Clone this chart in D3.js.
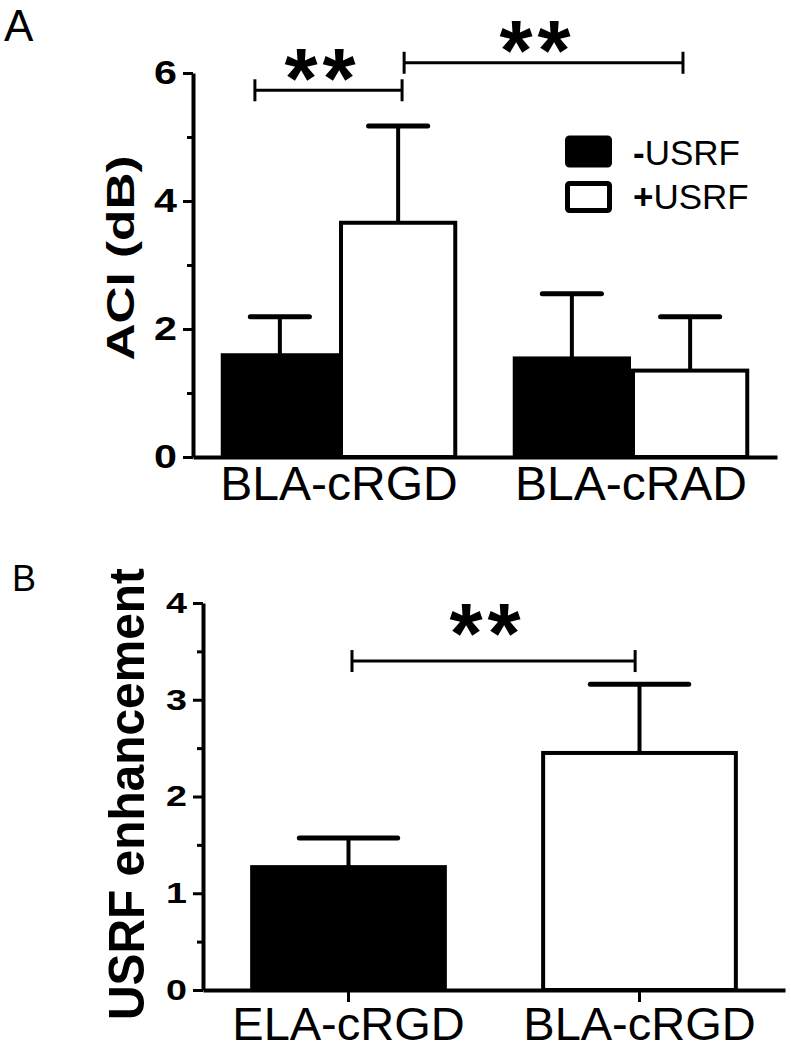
<!DOCTYPE html>
<html>
<head>
<meta charset="utf-8">
<script src="https://cdn.jsdelivr.net/npm/d3@7"></script>
<style>
  body { margin: 0; background: #fff; }
  svg { display: block; font-family: "Liberation Sans", Arial, sans-serif; }
</style>
</head>
<body>
<svg width="791" height="1050"></svg>
<script>
// Panel A data
const groupsA = ["BLA-cRGD", "BLA-cRAD"];
const seriesA = ["-USRF", "+USRF"];
const minusMean = [1.59, 1.54];
const minusErr = [0.60, 1.01];
const plusMean = [3.66, 1.35];
const plusErr = [1.51, 0.84];
const ticksA = [0, 2, 4, 6];
const minorA = [1, 3, 5];
// brackets: from/to in category steps from the left end of the axis
const bracketsA = [
    { from: 0.212, to: 0.716, y: 5.73, label: "**" },
    { from: 0.723, to: 1.678, y: 6.16, label: "**" }
];

// Panel B data
const groupsB = ["ELA-cRGD", "BLA-cRGD"];
const meanB = [1.27, 2.45];
const errB = [0.30, 0.71];
const ticksB = [0, 1, 2, 3, 4];
const minorB = [0.5, 1.5, 2.5, 3.5];
const bracketsB = [
    { from: 0.512, to: 1.485, y: 3.40, label: "**" }
];

const fills = ["#000", "#fff"];

const svg = d3.select("svg");
svg.append("rect").attr("width", 791).attr("height", 1050).attr("fill", "#fff");

// stretch tick labels sideways like the original
function widen(sel, s) {
    sel.selectAll(".tick text").each(function() {
        const t = d3.select(this);
        const x = +t.attr("x");
        t.attr("x", 0).attr("transform", `translate(${x},0) scale(${s},1)`);
    });
}

function drawErr(g, cx, yTop, yBar, capW) {
    g.append("line")
        .attr("x1", cx).attr("x2", cx)
        .attr("y1", yBar).attr("y2", yTop)
        .attr("stroke", "#000").attr("stroke-width", 4);
    g.append("line")
        .attr("x1", cx - capW / 2).attr("x2", cx + capW / 2)
        .attr("y1", yTop).attr("y2", yTop)
        .attr("stroke", "#000").attr("stroke-width", 5)
        .attr("stroke-linecap", "round");
}

function drawBracket(g, x0, step, y, b, starGap) {
    const x1 = x0 + b.from * step, x2 = x0 + b.to * step, yy = y(b.y);
    g.append("line").attr("x1", x1).attr("x2", x2).attr("y1", yy).attr("y2", yy)
        .attr("stroke", "#000").attr("stroke-width", 3);
    [x1, x2].forEach(x => {
        g.append("line").attr("x1", x).attr("x2", x).attr("y1", yy - 11).attr("y2", yy + 11)
            .attr("stroke", "#000").attr("stroke-width", 3);
    });
    g.append("text")
        .attr("x", (x1 + x2) / 2 - 6)
        .attr("y", yy + starGap)
        .attr("text-anchor", "middle")
        .attr("font-size", 85)
        .attr("font-weight", "bold")
        .attr("letter-spacing", 5)
        .text(b.label);
}

// ---------- Panel A ----------
const yA = d3.scaleLinear().domain([0, 6]).range([457, 73]);
const xA = d3.scaleBand().domain(groupsA).range([193, 777]).paddingInner(0.19).paddingOuter(0.095);
const xsA = d3.scaleBand().domain(seriesA).range([0, xA.bandwidth()]);
const gA = svg.append("g");

const barsA = [];
groupsA.forEach((grp, i) => {
    barsA.push({ grp, s: 0, v: minusMean[i], e: minusErr[i] });
    barsA.push({ grp, s: 1, v: plusMean[i], e: plusErr[i] });
});

barsA.forEach(d => {
    const x = xA(d.grp) + xsA(seriesA[d.s]);
    drawErr(gA, x + xsA.bandwidth() / 2, yA(d.v + d.e), yA(d.v), xsA.bandwidth() / 2);
});
gA.selectAll("rect.bar")
    .data(barsA)
    .enter()
    .append("rect")
    .attr("class", "bar")
    .attr("x", d => xA(d.grp) + xsA(seriesA[d.s]) + 2)
    .attr("y", d => yA(d.v))
    .attr("width", xsA.bandwidth() - 4)
    .attr("height", d => yA(0) - yA(d.v))
    .attr("fill", d => fills[d.s])
    .attr("stroke", "#000")
    .attr("stroke-width", 4);

const axA = gA.append("g").attr("transform", "translate(193,0)")
    .call(d3.axisLeft(yA).tickValues(ticksA).tickFormat(d3.format("d")).tickSize(10).tickPadding(6).tickSizeOuter(0));
axA.select(".domain").attr("stroke-width", 4);
axA.selectAll(".tick line").attr("stroke-width", 3);
axA.selectAll(".tick text").attr("font-size", 33).attr("font-weight", "bold")
    .attr("font-family", "Liberation Sans, Arial, sans-serif");
widen(axA, 1.25);
const axAm = gA.append("g").attr("transform", "translate(193,0)")
    .call(d3.axisLeft(yA).tickValues(minorA).tickSize(6).tickFormat(""));
axAm.select(".domain").remove();
axAm.selectAll(".tick line").attr("stroke-width", 3);

const axAx = gA.append("g").attr("transform", "translate(0,457)")
    .call(d3.axisBottom(xA).tickSize(0).tickPadding(9).tickSizeOuter(0));
axAx.select(".domain").attr("stroke-width", 4);
axAx.selectAll(".tick text").attr("font-size", 48)
    .attr("font-family", "Liberation Sans, Arial, sans-serif");

gA.append("text")
    .attr("transform", "translate(134,258) rotate(-90)")
    .attr("text-anchor", "middle")
    .attr("font-size", 38).attr("font-weight", "bold")
    .attr("textLength", 205).attr("lengthAdjust", "spacingAndGlyphs")
    .text("ACI (dB)");

bracketsA.forEach((b, i) => drawBracket(gA, 193, xA.step(), yA, b, i === 0 ? 18 : 17));

// legend
const leg = gA.append("g");
seriesA.forEach((s, i) => {
    leg.append("rect")
        .attr("x", 567.5).attr("y", 138 + i * 45.5)
        .attr("width", 42).attr("height", 27).attr("rx", 2)
        .attr("fill", fills[i]).attr("stroke", "#000").attr("stroke-width", 5);
    const t = leg.append("text").attr("x", 633).attr("y", 165 + i * 44).attr("font-size", 35);
    t.append("tspan").attr("font-weight", "bold").text(s[0]);
    t.append("tspan").text(s.slice(1));
});

svg.append("text").attr("x", 4).attr("y", 41).attr("font-size", 44).text("A");

// ---------- Panel B ----------
const yB = d3.scaleLinear().domain([0, 4]).range([990, 603]);
const xB = d3.scaleBand().domain(groupsB).range([203, 785]).paddingInner(0.324).paddingOuter(0.162);
const gB = svg.append("g");

groupsB.forEach((grp, i) => {
    drawErr(gB, xB(grp) + xB.bandwidth() / 2, yB(meanB[i] + errB[i]), yB(meanB[i]), xB.bandwidth() / 2);
});
gB.selectAll("rect.bar")
    .data(groupsB)
    .enter()
    .append("rect")
    .attr("class", "bar")
    .attr("x", d => xB(d) + 2)
    .attr("y", (d, i) => yB(meanB[i]))
    .attr("width", xB.bandwidth() - 4)
    .attr("height", (d, i) => yB(0) - yB(meanB[i]))
    .attr("fill", (d, i) => fills[i])
    .attr("stroke", "#000")
    .attr("stroke-width", 4);

const axB = gB.append("g").attr("transform", "translate(203,0)")
    .call(d3.axisLeft(yB).tickValues(ticksB).tickFormat(d3.format("d")).tickSize(10).tickPadding(6).tickSizeOuter(0));
axB.select(".domain").attr("stroke-width", 4);
axB.selectAll(".tick line").attr("stroke-width", 3);
axB.selectAll(".tick text").attr("font-size", 29).attr("font-weight", "bold")
    .attr("font-family", "Liberation Sans, Arial, sans-serif");
widen(axB, 1.3);
const axBm = gB.append("g").attr("transform", "translate(203,0)")
    .call(d3.axisLeft(yB).tickValues(minorB).tickSize(6).tickFormat(""));
axBm.select(".domain").remove();
axBm.selectAll(".tick line").attr("stroke-width", 3);

const axBx = gB.append("g").attr("transform", "translate(0,990)")
    .call(d3.axisBottom(xB).tickSize(12).tickPadding(5).tickSizeOuter(0));
axBx.select(".domain").attr("stroke-width", 4);
axBx.selectAll(".tick line").attr("stroke-width", 3);
axBx.selectAll(".tick text").attr("font-size", 47)
    .attr("font-family", "Liberation Sans, Arial, sans-serif");

gB.append("text")
    .attr("transform", "translate(144,794) rotate(-90)")
    .attr("text-anchor", "middle")
    .attr("font-size", 50).attr("font-weight", "bold")
    .attr("textLength", 452).attr("lengthAdjust", "spacingAndGlyphs")
    .text("USRF enhancement");

bracketsB.forEach(b => drawBracket(gB, 203, xB.step(), yB, b, 2));

svg.append("text").attr("x", 12).attr("y", 591).attr("font-size", 36).text("B");
</script>
</body>
</html>
